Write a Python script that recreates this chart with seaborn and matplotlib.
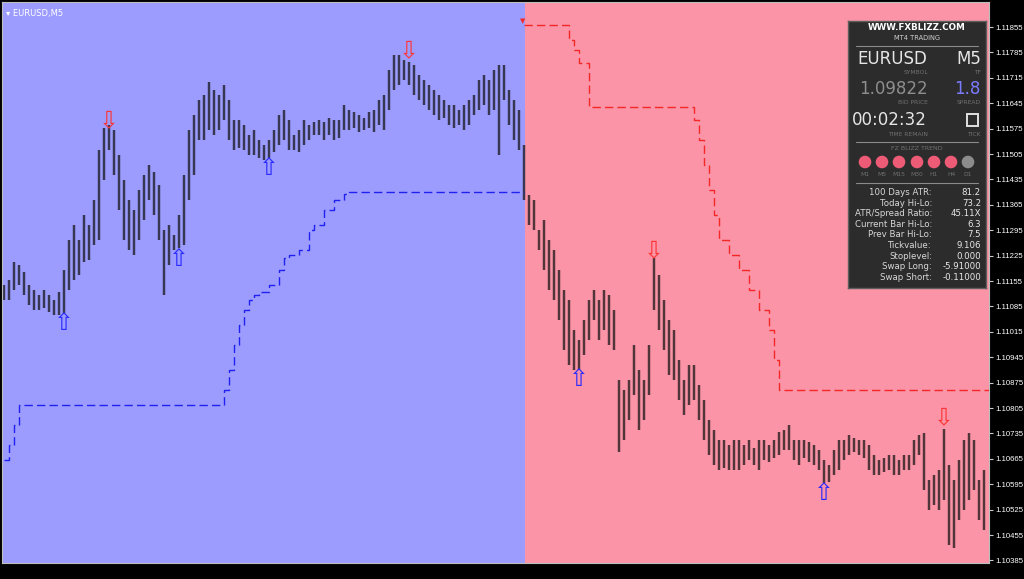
import numpy as np
import pandas as pd
import seaborn as sns
import matplotlib.pyplot as plt
from matplotlib.patches import Rectangle, Circle

# EURUSD M5 bars (high / low), one entry per bar
bar_high = [1.11144, 1.11158, 1.11207, 1.11199, 1.11180, 1.11144, 1.11130, 1.11116, 1.11130, 1.11116,
            1.11103, 1.11124, 1.11185, 1.11268, 1.11309, 1.11268, 1.11337, 1.11309, 1.11378, 1.11516,
            1.11577, 1.11585, 1.11571, 1.11502, 1.11433, 1.11378, 1.11351, 1.11406, 1.11447, 1.11475,
            1.11455, 1.11420, 1.11296, 1.11309, 1.11282, 1.11337, 1.11447, 1.11571, 1.11613, 1.11654,
            1.11668, 1.11703, 1.11681, 1.11668, 1.11695, 1.11654, 1.11599, 1.11599, 1.11585, 1.11557,
            1.11571, 1.11544, 1.11530, 1.11544, 1.11571, 1.11613, 1.11626, 1.11599, 1.11557, 1.11571,
            1.11599, 1.11585, 1.11593, 1.11599, 1.11593, 1.11604, 1.11599, 1.11599, 1.11640, 1.11626,
            1.11621, 1.11613, 1.11604, 1.11621, 1.11626, 1.11654, 1.11668, 1.11736, 1.11778, 1.11778,
            1.11764, 1.11758, 1.11750, 1.11723, 1.11709, 1.11695, 1.11681, 1.11668, 1.11654, 1.11640,
            1.11640, 1.11626, 1.11640, 1.11654, 1.11668, 1.11709, 1.11723, 1.11709, 1.11736, 1.11750,
            1.11750, 1.11681, 1.11654, 1.11626, 1.11530, 1.11392, 1.11378, 1.11296, 1.11323, 1.11268,
            1.11240, 1.11185, 1.11130, 1.11103, 1.11020, 1.10992, 1.11048, 1.11103, 1.11130, 1.11103,
            1.11130, 1.11116, 1.11075, 1.10882, 1.10855, 1.10882, 1.10979, 1.10910, 1.10882, 1.10979,
            1.11218, 1.11172, 1.11103, 1.11048, 1.11020, 1.10937, 1.10882, 1.10923, 1.10923, 1.10868,
            1.10827, 1.10772, 1.10744, 1.10717, 1.10717, 1.10703, 1.10717, 1.10717, 1.10703, 1.10717,
            1.10695, 1.10717, 1.10717, 1.10703, 1.10717, 1.10739, 1.10744, 1.10758, 1.10717, 1.10717,
            1.10717, 1.10711, 1.10703, 1.10689, 1.10662, 1.10648, 1.10689, 1.10717, 1.10717, 1.10731,
            1.10722, 1.10717, 1.10717, 1.10703, 1.10675, 1.10662, 1.10667, 1.10675, 1.10675, 1.10662,
            1.10675, 1.10675, 1.10717, 1.10731, 1.10736, 1.10607, 1.10620, 1.10634, 1.10747, 1.10648,
            1.10607, 1.10662, 1.10717, 1.10736, 1.10717, 1.10607, 1.10634]
bar_low = [1.11103, 1.11103, 1.11130, 1.11144, 1.11116, 1.11089, 1.11075, 1.11075, 1.11081, 1.11070,
           1.11061, 1.11061, 1.11064, 1.11130, 1.11158, 1.11172, 1.11207, 1.11213, 1.11254, 1.11268,
           1.11433, 1.11516, 1.11447, 1.11351, 1.11268, 1.11240, 1.11227, 1.11268, 1.11323, 1.11378,
           1.11337, 1.11268, 1.11116, 1.11199, 1.11240, 1.11246, 1.11254, 1.11378, 1.11447, 1.11544,
           1.11544, 1.11571, 1.11557, 1.11571, 1.11599, 1.11544, 1.11516, 1.11522, 1.11516, 1.11502,
           1.11502, 1.11494, 1.11488, 1.11494, 1.11511, 1.11530, 1.11544, 1.11516, 1.11516, 1.11511,
           1.11530, 1.11544, 1.11557, 1.11557, 1.11544, 1.11557, 1.11544, 1.11549, 1.11571, 1.11571,
           1.11577, 1.11566, 1.11571, 1.11577, 1.11566, 1.11585, 1.11571, 1.11626, 1.11681, 1.11695,
           1.11709, 1.11695, 1.11668, 1.11654, 1.11640, 1.11626, 1.11613, 1.11599, 1.11604, 1.11585,
           1.11577, 1.11585, 1.11571, 1.11585, 1.11613, 1.11626, 1.11640, 1.11613, 1.11626, 1.11502,
           1.11654, 1.11585, 1.11544, 1.11516, 1.11378, 1.11309, 1.11296, 1.11240, 1.11185, 1.11130,
           1.11103, 1.11048, 1.10965, 1.10923, 1.10910, 1.10910, 1.10951, 1.10992, 1.11048, 1.10992,
           1.11020, 1.10979, 1.10965, 1.10684, 1.10717, 1.10772, 1.10841, 1.10744, 1.10772, 1.10841,
           1.11075, 1.11020, 1.10965, 1.10896, 1.10882, 1.10827, 1.10786, 1.10813, 1.10827, 1.10772,
           1.10717, 1.10675, 1.10648, 1.10634, 1.10640, 1.10634, 1.10634, 1.10634, 1.10648, 1.10662,
           1.10648, 1.10634, 1.10662, 1.10656, 1.10667, 1.10675, 1.10689, 1.10689, 1.10662, 1.10648,
           1.10667, 1.10656, 1.10648, 1.10634, 1.10598, 1.10601, 1.10620, 1.10634, 1.10662, 1.10675,
           1.10684, 1.10675, 1.10667, 1.10634, 1.10620, 1.10620, 1.10629, 1.10634, 1.10620, 1.10620,
           1.10634, 1.10634, 1.10648, 1.10675, 1.10579, 1.10524, 1.10538, 1.10524, 1.10551, 1.10427,
           1.10419, 1.10496, 1.10524, 1.10551, 1.10579, 1.10496, 1.10469]

# trailing stop of the trend indicator (bar index where the level changes)
blue_stop_bar = [0, 1, 2, 3, 44, 45, 46, 47, 48, 49, 50, 51, 53, 55, 56, 57, 59, 61, 62, 64, 66, 68, 69, 104]
blue_stop_price = [1.10662, 1.10703, 1.10758, 1.10813, 1.10855, 1.10910, 1.10979, 1.11034, 1.11075,
                   1.11103, 1.11116, 1.11124, 1.11144, 1.11185, 1.11218, 1.11227, 1.11240, 1.11296,
                   1.11309, 1.11351, 1.11378, 1.11395, 1.11400, 1.11400]
red_stop_bar = [104, 113, 114, 115, 117, 138, 139, 140, 141, 142, 143, 145, 147, 149, 151, 153, 154, 155, 197]
red_stop_price = [1.11860, 1.11819, 1.11792, 1.11756, 1.11635, 1.11599, 1.11544, 1.11475, 1.11406,
                  1.11337, 1.11268, 1.11227, 1.11185, 1.11130, 1.11075, 1.11020, 1.10937, 1.10855, 1.10855]
trend_switch_bar = 104

# signal arrows
buy_bar = [12, 35, 53, 115, 164]
buy_price = [1.11048, 1.11224, 1.11475, 1.10893, 1.10579]
sell_bar = [21, 81, 130, 188]
sell_price = [1.11604, 1.11797, 1.11246, 1.10786]

price_ticks = [1.10385, 1.10455, 1.10525, 1.10595, 1.10665, 1.10735, 1.10805, 1.10875, 1.10945,
               1.11015, 1.11085, 1.11155, 1.11225, 1.11295, 1.11365, 1.11435, 1.11505, 1.11575,
               1.11645, 1.11715, 1.11785, 1.11855]

# info panel
panel_symbol, panel_tf = "EURUSD", "M5"
panel_bid, panel_spread = "1.09822", "1.8"
panel_time = "00:02:32"
trend_tf = ["M1", "M5", "M15", "M30", "H1", "H4", "D1"]
trend_state = ["down", "down", "down", "down", "down", "down", "flat"]
stat_labels = ["100 Days ATR:", "Today Hi-Lo:", "ATR/Spread Ratio:", "Current Bar Hi-Lo:",
               "Prev Bar Hi-Lo:", "Tickvalue:", "Stoplevel:", "Swap Long:", "Swap Short:"]
stat_values = ["81.2", "73.2", "45.11X", "6.3", "7.5", "9.106", "0.000", "-5.91000", "-0.11000"]

sns.set_theme(style="ticks")
plt.rcParams['font.family'] = ['DejaVu Sans']

bars = pd.DataFrame({"bar": np.arange(len(bar_high)), "high": bar_high, "low": bar_low})

fig = plt.figure(figsize=(10.24, 5.79), dpi=100, facecolor='black')
ax = fig.add_axes([2/1024, 16/579, 987/1024, 561/579])
x_hi = 197
ax.set_xlim(-0.4, x_hi)
ax.set_ylim(1.10378, 1.11924)

# trend background
ax.axvspan(-0.4, trend_switch_bar + 0.2, color='#9C9CFF', lw=0, zorder=0)
ax.axvspan(trend_switch_bar + 0.2, x_hi, color='#FA94A6', lw=0, zorder=0)

# price bars
ax.vlines(bars["bar"], bars["low"], bars["high"], color='#101010', alpha=0.72, lw=1.75, zorder=2)

blue_df = pd.DataFrame({"bar": blue_stop_bar, "price": blue_stop_price})
red_df = pd.DataFrame({"bar": red_stop_bar, "price": red_stop_price})
sns.lineplot(data=blue_df, x="bar", y="price", ax=ax, color='#2020F0', lw=1.0,
             drawstyle='steps-post', linestyle=(0, (6, 3)), zorder=3)
sns.lineplot(data=red_df, x="bar", y="price", ax=ax, color='#F52828', lw=1.0,
             drawstyle='steps-post', linestyle=(0, (6, 3)), zorder=3)
ax.annotate("\u25BC", xy=(red_stop_bar[0], red_stop_price[0]), xytext=(-1, 3),
            textcoords='offset points', ha='center', va='center', color='#F52828', fontsize=5)

for b, p in zip(buy_bar, buy_price):
    ax.annotate("\u21E7", xy=(b, p), xytext=(0, -2), textcoords='offset points',
                color='#2B2BFF', fontsize=17, ha='center', va='center', zorder=4)
for b, p in zip(sell_bar, sell_price):
    ax.annotate("\u21E9", xy=(b, p), xytext=(0, -1.5), textcoords='offset points',
                color='#FF3535', fontsize=17, ha='center', va='center', zorder=4)

ax.set_xticks([])
ax.set_yticks(price_ticks)
ax.set_yticklabels([f"{t:.5f}" for t in price_ticks], family='Liberation Sans')
ax.yaxis.tick_right()
ax.tick_params(axis='y', colors='#C8C8C8', labelcolor='white', labelsize=5.6, length=3, width=0.8, pad=1.5)
ax.set_xlabel("")
ax.set_ylabel("")
for s in ax.spines.values():
    s.set_color('#BDBDBD')
    s.set_linewidth(0.8)

ax.text(0.004, 0.988, "\u25BE EURUSD,M5", transform=ax.transAxes, color='white',
        fontsize=6, va='top', ha='left')

# ---- info panel, coordinates in screen pixels ----
pan = fig.add_axes([848/1024, 1 - 288/579, 138/1024, 267/579], zorder=5)
pan.set_facecolor('#2C2C2C')
pan.set_xlim(848, 986)
pan.set_ylim(288, 21)
pan.set_xticks([])
pan.set_yticks([])
for s in pan.spines.values():
    s.set_color('#5E5E5E')
    s.set_linewidth(1.0)

lbl = '#707070'
pan.text(917, 27, "WWW.FXBLIZZ.COM", color='white', fontsize=6.3, fontweight='bold', ha='center', va='center')
pan.text(917, 38, "MT4 TRADING", color='#D0D0D0', fontsize=4.8, ha='center', va='center')
pan.plot([856, 978], [46, 46], color='#8A8A8A', lw=0.8)
pan.text(857, 59, panel_symbol, color='#E6E6E6', fontsize=12, ha='left', va='center')
pan.text(981, 59, panel_tf, color='#E6E6E6', fontsize=12, ha='right', va='center')
pan.text(928, 72, "SYMBOL", color=lbl, fontsize=4.3, ha='right', va='center')
pan.text(981, 72, "TF", color=lbl, fontsize=4.3, ha='right', va='center')
pan.text(859, 89, panel_bid, color='#8E8E8E', fontsize=12, ha='left', va='center')
pan.text(981, 89, panel_spread, color='#7B7BFF', fontsize=12, ha='right', va='center')
pan.text(928, 103, "BID PRICE", color=lbl, fontsize=4.3, ha='right', va='center')
pan.text(981, 103, "SPREAD", color=lbl, fontsize=4.3, ha='right', va='center')
pan.text(852, 120, panel_time, color='#E6E6E6', fontsize=12, ha='left', va='center')
pan.add_patch(Rectangle((967, 114), 11, 12, fill=False, ec='#E0E0E0', lw=1.4))
pan.text(928, 134, "TIME REMAIN", color=lbl, fontsize=4.3, ha='right', va='center')
pan.text(981, 134, "TICK", color=lbl, fontsize=4.3, ha='right', va='center')
pan.plot([856, 978], [142, 142], color='#8A8A8A', lw=0.8)
pan.text(917, 148, "FZ BLIZZ TREND", color=lbl, fontsize=4.5, ha='center', va='center')

tf_x = [865, 882, 899, 917, 934, 951, 968]
state_color = {"down": '#EE5B76', "up": '#5B9BEE', "flat": '#8C8C8C'}
for x, tf, st in zip(tf_x, trend_tf, trend_state):
    pan.add_patch(Circle((x, 162), 6.3, color=state_color[st], lw=0))
    pan.text(x, 174, tf, color=lbl, fontsize=4.3, ha='center', va='center')
pan.plot([856, 978], [183, 183], color='#8A8A8A', lw=0.8)

for k, (l, v) in enumerate(zip(stat_labels, stat_values)):
    y = 192.5 + k * 10.6
    pan.text(932, y, l, color='#D8D8D8', fontsize=6.2, ha='right', va='center')
    pan.text(981, y, v, color='#E8E8E8', fontsize=6.2, ha='right', va='center')

fig.savefig("out.png", dpi=100, facecolor='black')
